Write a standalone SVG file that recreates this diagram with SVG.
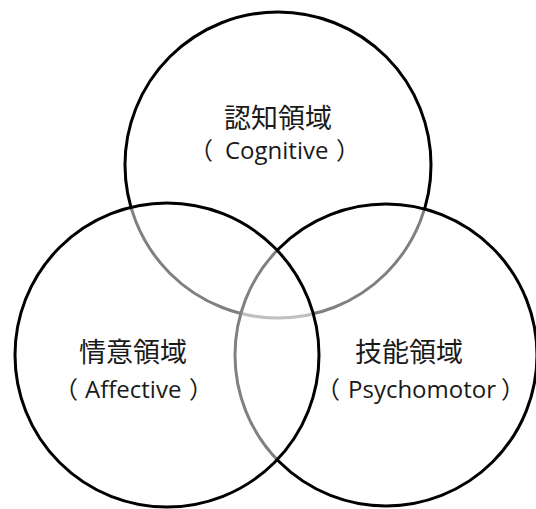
<svg xmlns="http://www.w3.org/2000/svg" width="536" height="509" viewBox="0 0 536 509">
  <style>
    .ring { fill: #ffffff; fill-opacity: 0.5; stroke: #000000; stroke-width: 3; }
    .jp { font-family: "Noto Sans CJK JP", "Noto Sans CJK SC", sans-serif; font-size: 27px; fill: #1a1a1a; text-anchor: middle; }
    .en { font-family: "Open Sans", "Noto Sans CJK JP", sans-serif; font-size: 24px; fill: #1a1a1a; }
    .par { font-family: "Noto Sans CJK JP", sans-serif; font-size: 24px; }
  </style>
  <rect x="0" y="0" width="536" height="509" fill="#ffffff"/>
  <g id="cognitive">
    <circle class="ring" cx="278" cy="165" r="153"/>
    <text class="jp" x="278" y="128">認知領域</text>
    <text class="en" y="159"><tspan class="par" x="189">（</tspan><tspan x="225">Cognitive</tspan><tspan class="par" x="336">）</tspan></text>
  </g>
  <g id="psychomotor">
    <circle class="ring" cx="386" cy="355" r="151"/>
    <text class="jp" x="409" y="362">技能領域</text>
    <text class="en" y="398"><tspan class="par" x="316">（</tspan><tspan x="348">Psychomotor</tspan><tspan class="par" x="501">）</tspan></text>
  </g>
  <g id="affective">
    <circle class="ring" cx="167" cy="355" r="152"/>
    <text class="jp" x="133" y="362">情意領域</text>
    <text class="en" y="398"><tspan class="par" x="54">（</tspan><tspan x="85">Affective</tspan><tspan class="par" x="189">）</tspan></text>
  </g>
</svg>
